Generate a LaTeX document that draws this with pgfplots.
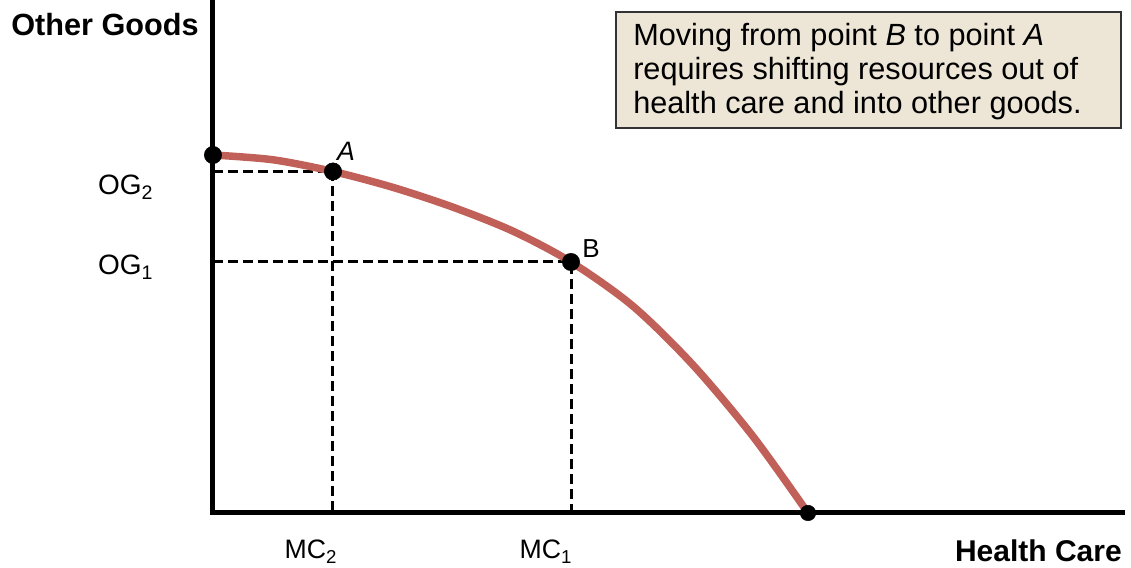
\documentclass[border=0pt]{standalone}
\usepackage{pgfplots}
\pgfplotsset{compat=1.18}
\usepackage{fontspec}
\setmainfont{Liberation Sans}
\definecolor{ppf}{RGB}{192,96,88}
\definecolor{boxfill}{RGB}{237,230,214}
\begin{document}
\begin{tikzpicture}
\begin{axis}[
  scale only axis, width=681.75pt, height=382.5pt,
  xmin=0, xmax=909, ymin=0, ymax=510,
  axis lines=left,
  axis line style={-, line width=3.75pt, line cap=rect},
  ticks=none,
  clip=false,
]
\path (axis cs:-213,-54) rectangle (axis cs:918,513);
% dashed guides
\addplot[black, line width=2.25pt, dash pattern=on 7.5pt off 3.75pt] coordinates {(0,341.5) (120,341.5) (120,0)};
\addplot[black, line width=2.25pt, dash pattern=on 7.5pt off 3.75pt] coordinates {(0,251) (358,251) (358,0)};
% PPF curve
\addplot[ppf, line width=5.6pt, smooth, tension=0.5] coordinates {
(0,358) (60,353.2) (120,341.5) (180,325.6) (240,305.8) (300,281.8) (358,251) (420,206.8) (480,148) (540,76.6) (595,0)};
% points
\addplot[only marks, mark=*, mark size=6.5pt, black] coordinates {(0,358) (120,341.5) (358,251)};
\addplot[only marks, mark=*, mark size=5.8pt, black] coordinates {(595,0)};
% labels
\node[font=\fontsize{20}{22}\selectfont\itshape] at (axis cs:133,362) {A};
\node[font=\fontsize{19.5}{22}\selectfont] at (axis cs:378,264) {B};
\node[anchor=base east, font=\fontsize{21}{24}\selectfont] at (axis cs:-55,318) {OG\textsubscript{2}};
\node[anchor=base east, font=\fontsize{21}{24}\selectfont] at (axis cs:-55,238) {OG\textsubscript{1}};
\node[anchor=base, font=\fontsize{20}{24}\selectfont] at (axis cs:98,-46) {MC\textsubscript{2}};
\node[anchor=base, font=\fontsize{20}{24}\selectfont] at (axis cs:333,-46) {MC\textsubscript{1}};
\node[anchor=base west, font=\fontsize{23}{26}\selectfont\bfseries, inner sep=0pt] at (axis cs:-202,477) {Other Goods};
\node[anchor=base east, font=\fontsize{22.5}{26}\selectfont\bfseries, inner sep=0pt] at (axis cs:909,-49) {Health Care};
% text box
\draw[fill=boxfill, draw=black!80, line width=1.2pt] (axis cs:403,501) rectangle (axis cs:908,385);
\node[anchor=base west, inner sep=0pt, font=\fontsize{23}{26}\selectfont] at (axis cs:420,467) {Moving from point \textit{B} to point \textit{A}};
\node[anchor=base west, inner sep=0pt, font=\fontsize{23}{26}\selectfont] at (axis cs:420,433) {requires shifting resources out of};
\node[anchor=base west, inner sep=0pt, font=\fontsize{23}{26}\selectfont] at (axis cs:420,399) {health care and into other goods.};
\end{axis}
\end{tikzpicture}
\end{document}
